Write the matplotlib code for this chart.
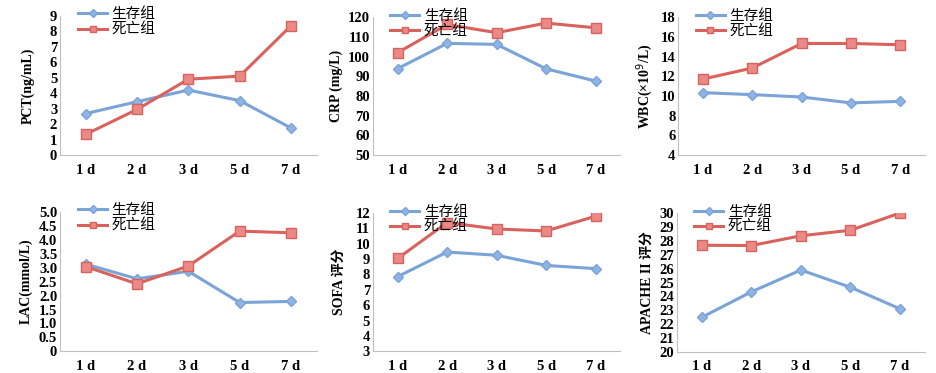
import numpy as np
import matplotlib
matplotlib.use("Agg")
import matplotlib.pyplot as plt

plt.rcParams['font.family'] = ['Liberation Serif', 'Noto Sans CJK SC']

days = ["1 d", "2 d", "3 d", "5 d", "7 d"]
legend_names = ["生存组", "死亡组"]

pct_live = [2.68, 3.45, 4.2, 3.52, 1.75]
pct_dead = [1.34, 2.95, 4.9, 5.1, 8.35]
crp_live = [93.9, 106.7, 106.2, 93.8, 87.6]
crp_dead = [102.0, 116.3, 112.1, 117.0, 114.6]
wbc_live = [10.34, 10.14, 9.9, 9.3, 9.46]
wbc_dead = [11.72, 12.84, 15.33, 15.33, 15.2]
lac_live = [3.13, 2.6, 2.87, 1.75, 1.79]
lac_dead = [3.04, 2.42, 3.06, 4.31, 4.25]
sofa_live = [7.86, 9.46, 9.25, 8.59, 8.38]
sofa_dead = [9.04, 11.38, 10.96, 10.83, 11.79]
apache_live = [22.5, 24.33, 25.9, 24.66, 23.11]
apache_dead = [27.68, 27.66, 28.36, 28.76, 30.0]

pct_ticks = ["0", "1", "2", "3", "4", "5", "6", "7", "8", "9"]
crp_ticks = ["50", "60", "70", "80", "90", "100", "110", "120"]
wbc_ticks = ["4", "6", "8", "10", "12", "14", "16", "18"]
lac_ticks = ["0", "0.5", "1.0", "1.5", "2.0", "2.5", "3.0", "3.5", "4.0", "4.5", "5.0"]
sofa_ticks = ["3", "4", "5", "6", "7", "8", "9", "10", "11", "12"]
apache_ticks = ["20", "21", "22", "23", "24", "25", "26", "27", "28", "29", "30"]

panels = [
    ("PCT(ng/mL)", pct_live, pct_dead, pct_ticks, 11),
    ("CRP (mg/L)", crp_live, crp_dead, crp_ticks, 4),
    ("WBC(×10$^9$/L)", wbc_live, wbc_dead, wbc_ticks, 4),
    ("LAC(mmol/L)", lac_live, lac_dead, lac_ticks, 4),
    ("SOFA 评分", sofa_live, sofa_dead, sofa_ticks, 7),
    ("APACHE II 评分", apache_live, apache_dead, apache_ticks, 4),
]

boxes = [
    [0.064, 0.584, 0.274, 0.374],
    [0.398, 0.584, 0.264, 0.370],
    [0.724, 0.584, 0.263, 0.370],
    [0.064, 0.058, 0.274, 0.374],
    [0.398, 0.058, 0.264, 0.371],
    [0.7225, 0.056, 0.2645, 0.373],
]

blue = "#7AA3D8"
red = "#D9625D"

fig = plt.figure(figsize=(9.37, 3.73), dpi=100)
x = np.arange(len(days))

for box, (label, live, dead, tl, lp) in zip(boxes, panels):
    ax = fig.add_axes(box)
    ax.plot(x, live, color=blue, lw=2.2, marker="D", markersize=5,
            markerfacecolor="#8FB4E3", markeredgecolor=blue, label=legend_names[0])
    ax.plot(x, dead, color=red, lw=2.2, marker="s", markersize=6.5,
            markerfacecolor="#E98A86", markeredgecolor=red, label=legend_names[1])
    yt = [float(v) for v in tl]
    ax.set_xlim(-0.5, 4.5)
    ax.set_ylim(yt[0], yt[-1])
    ax.set_yticks(yt)
    ax.set_yticklabels(tl)
    ax.set_xticks(x)
    ax.set_xticklabels(days)
    for t in ax.get_xticklabels() + ax.get_yticklabels():
        t.set_fontweight("bold")
        t.set_fontsize(10.5)
    ax.tick_params(length=0, pad=2)
    ax.tick_params(axis="x", pad=6)
    for s in ["top", "right"]:
        ax.spines[s].set_visible(False)
    for s in ["left", "bottom"]:
        ax.spines[s].set_color("#BFBFBF")
        ax.spines[s].set_linewidth(0.8)
    ax.set_ylabel(label, fontsize=10, fontweight="bold", labelpad=lp)
    ax.legend(loc="upper left", bbox_to_anchor=(0.07, 1.06), frameon=False,
              prop={"family": "Noto Sans CJK SC", "size": 10.5},
              handlelength=2.0, handletextpad=0.3, labelspacing=0.1,
              borderaxespad=0, borderpad=0, markerscale=0.75)

fig.savefig("out.png", dpi=100)
